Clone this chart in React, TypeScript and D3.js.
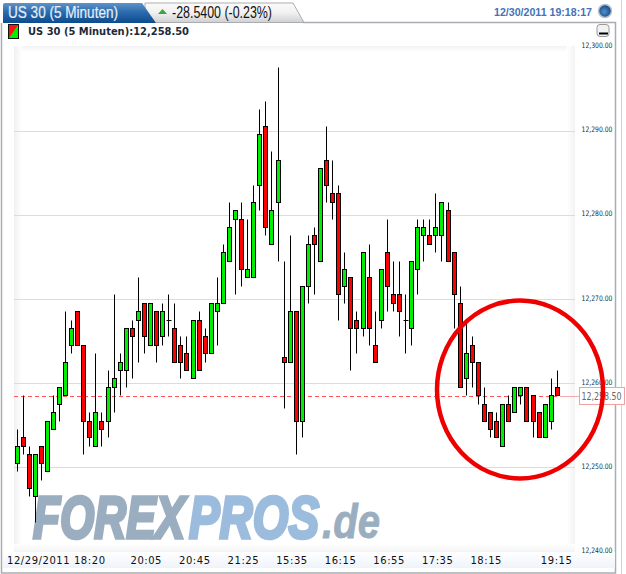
import React, { useEffect, useRef } from "react";
import * as d3 from "d3";

const BASE = 12200;
const opens = [50.5,53.5,51.5,46.5,52.5,49.5,54.5,57.5,58.5,64.5,68.5,64.5,55.5,52.5,55.5,55.5,59.5,61.5,61.5,66.5,67.5,69.5,64.5,68.5,65.5,67.5,66.5,64.5,63.5,60.5,67.5,65.5,63.5,68.5,69.5,74.5,79.5,79.5,72.5,72.5,83.5,90.5,76.5,81.5,63,62.5,68.5,55.5,71.5,77.5,74.5,86.5,82.5,82.5,71.5,72.5,67.5,66.5,72.5,64.5,67.5,75.5,70.5,70.5,67.5,66.5,73.5,77.5,77.5,77.5,77.5,80.5,75.5,69.5,60.5,64.5,62.5,57.5,56.5,55.5,52.5,57.5,56.5,58.5,59.5,58.5,56.5,53.5,55.5,59.5];
const closes = [52.5,52.5,47.5,51.5,50.5,55.5,56.5,59.5,62.5,66.5,64.5,55.5,53.5,56.5,54.5,59.5,60.5,62.5,66.5,65.5,68.5,65.5,69.5,64.5,68.5,67.5,62.5,62.5,61.5,67.5,61.5,63.5,69.5,69.5,75.5,78.5,80.5,73.5,73.5,81.5,89.5,78.5,80.5,86.5,62.5,68.5,55.5,71.5,76.5,76.5,85.5,83.5,81.5,70.5,73.5,66.5,66.5,75.5,66.5,62.5,73.5,71.5,69.5,68.5,67.5,74.5,78.5,78.5,76.5,78.5,81.5,74.5,70.5,59.5,63.5,62.5,58.5,55.5,54.5,53.5,57.5,55.5,59.5,59.5,55.5,55.5,53.5,57.5,58.5,58.5];
const highs = [54.5,58.5,52.5,51.5,52.5,55.5,58.5,59.5,68.5,67.5,68.5,64.5,56.5,63.5,56.5,61.5,70.5,63.5,66.5,67.5,72.5,69.5,69.5,68.5,69.5,70.5,69.5,65.5,65.5,67.5,68.5,66.5,69.5,72.5,76.5,81.5,80.5,81.5,79.5,83.5,92.5,93.5,87.5,97.5,74.5,77.5,68.5,71.5,77.5,78.5,85.5,90.5,86.5,83.5,75.5,72.5,68.5,75.5,76.5,68.5,73.5,79.5,74.5,74.5,70.5,74.5,79.5,79.5,79.5,82.5,81.5,81.5,75.5,71.5,67.5,65.5,62.5,59.5,56.5,56.5,57.5,58.5,59.5,59.5,59.5,58.5,56.5,57.5,60.5,61.5];
const lows = [49.5,51.5,46.5,43.5,48.5,49.5,54.5,55.5,58.5,63.5,64.5,51.5,52.5,52.5,52.5,53.5,56.5,58.5,59.5,60.5,62.5,63.5,64.5,62.5,64.5,65.5,62.5,60.5,61.5,60.5,61.5,62.5,63.5,64.5,69.5,74.5,70.5,71.5,72.5,72.5,80.5,77.5,76.5,74.5,57,62.5,51.5,53.5,69.5,70.5,74.5,81.5,79.5,67.5,69.5,61.5,63.5,65.5,64.5,62.5,66.5,68.5,68.5,65.5,63.5,64.5,70.5,74.5,76.5,75.5,74.5,74.5,66.5,59.5,58.5,59.5,57.5,55.5,53.5,53.5,52.5,55.5,56.5,57.5,55.5,53.5,53.5,53.5,54.5,58.5];

const priceTicks = [12300, 12290, 12280, 12270, 12260, 12250, 12240];
const timeLabels = ["12/29/2011 18:20", "20:05", "20:45", "21:25", "15:35", "16:15", "16:55", "17:35", "18:15", "19:15"];
const timeLabelIndex = [0, 21, 29, 37, 45, 53, 61, 69, 77, 88.6];
const lastPrice = 12258.5;
const titleText = "US 30 (5 Minuten)";
const changeText = "-28.5400 (-0.23%)";
const legendText = "US 30 (5 Minuten):12,258.50";
const stampText = "12/30/2011 19:18:17";

const fmt = d3.format(",.2f");

export default function App() {
  const ref = useRef<SVGSVGElement>(null);
  useEffect(() => {
    const svg = d3.select(ref.current);
    svg.selectAll("*").remove();
    const defs = svg.append("defs");
    const grad = (id: string, x2: number, y2: number, stops: [number, string][]) => {
      const g = defs.append("linearGradient").attr("id", id).attr("x1", 0).attr("y1", 0).attr("x2", x2).attr("y2", y2);
      stops.forEach(([o, c]) => g.append("stop").attr("offset", o).attr("stop-color", c));
    };
    grad("tabBlue", 0, 1, [[0, "#5f93c9"], [0.45, "#2b6cae"], [1, "#0d4a8e"]]);
    grad("tabGray", 0, 1, [[0, "#fbfbfb"], [0.5, "#f1f1f1"], [1, "#cfd0d2"]]);
    grad("strip", 0, 1, [[0, "#ffffff"], [1, "#eef4fb"]]);
    grad("shL", 1, 0, [[0, "#f1f1f1"], [1, "#ffffff"]]);
    grad("shR", 1, 0, [[0, "#ffffff"], [1, "#f3f3f3"]]);
    grad("shT", 0, 1, [[0, "#f3f3f3"], [1, "#ffffff"]]);
    grad("shB", 0, 1, [[0, "#ffffff"], [1, "#f3f3f3"]]);
    const rg = defs.append("radialGradient").attr("id", "globe").attr("cx", 0.45).attr("cy", 0.55).attr("r", 0.6);
    rg.append("stop").attr("offset", 0).attr("stop-color", "#4f8fd0");
    rg.append("stop").attr("offset", 1).attr("stop-color", "#123f78");

    const y = d3.scaleLinear().domain([12240, 12300]).range([551.6, 46.4]);
    const x = d3.scaleLinear().domain([0, 89]).range([17, 557.3]);
    const px = (v: number) => Math.round(x(v) - 0.5) + 0.5;
    const py = (v: number) => Math.round(y(BASE + v) - 0.5) + 0.5;

    // frame
    svg.append("rect").attr("width", 626).attr("height", 574).attr("fill", "#fff");
    svg.append("path").attr("d", "M1.5 23V573H615.5V22.5H303").attr("fill", "none").attr("stroke", "#a9adb1").attr("stroke-width", 1.5);
    svg.append("line").attr("x1", 621.5).attr("x2", 621.5).attr("y1", 0).attr("y2", 574).attr("stroke", "#d0d2d4");

    // tabs
    svg.append("path").attr("d", "M145 3H293L304 22.5H145Z").attr("fill", "url(#tabGray)").attr("stroke", "#a9adb1");
    svg.append("path").attr("d", "M3 5Q3 3 5 3H142L156 23H3Z").attr("fill", "url(#tabBlue)");
    svg.append("text").text(titleText).attr("x", 8).attr("y", 18).attr("font-family", "Liberation Sans").attr("font-size", 16).attr("fill", "#e6eef8").attr("stroke", "#e6eef8").attr("stroke-width", 0.2).attr("textLength", 110).attr("lengthAdjust", "spacingAndGlyphs");
    svg.append("path").attr("d", "M158 14L162.5 9L167 14Z").attr("fill", "#3da53d");
    svg.append("text").text(changeText).attr("x", 172).attr("y", 18).attr("font-family", "Liberation Sans").attr("font-size", 16).attr("fill", "#111").attr("textLength", 100).attr("lengthAdjust", "spacingAndGlyphs");
    svg.append("text").text(stampText).attr("x", 494).attr("y", 16).attr("font-family", "Liberation Sans").attr("font-weight", "bold").attr("font-size", 11).attr("fill", "#4472b8").attr("textLength", 98).attr("lengthAdjust", "spacingAndGlyphs");
    svg.append("circle").attr("cx", 605).attr("cy", 11).attr("r", 6.5).attr("fill", "url(#globe)").attr("stroke", "#b9c2cc").attr("stroke-width", 1.5);

    // legend icon and text
    svg.append("rect").attr("x", 8.5).attr("y", 24.5).attr("width", 10).attr("height", 14).attr("fill", "#00ee00").attr("stroke", "#111");
    svg.append("path").attr("d", "M9 25H18L9 38Z").attr("fill", "#ff1111");
    svg.append("text").text(legendText).attr("x", 28).attr("y", 35).attr("font-family", "DejaVu Sans").attr("font-weight", "bold").attr("font-size", 10).attr("fill", "#1c2a3a").attr("textLength", 161).attr("lengthAdjust", "spacingAndGlyphs");

    // plot background shading
    svg.append("rect").attr("x", 14).attr("y", 46).attr("width", 561).attr("height", 6).attr("fill", "url(#shT)");
    svg.append("rect").attr("x", 14).attr("y", 46).attr("width", 8).attr("height", 506).attr("fill", "url(#shL)");
    svg.append("rect").attr("x", 567).attr("y", 46).attr("width", 8).attr("height", 506).attr("fill", "url(#shR)");
    svg.append("rect").attr("x", 14).attr("y", 544).attr("width", 561).attr("height", 8).attr("fill", "url(#shB)");
    svg.append("rect").attr("x", 3).attr("y", 552).attr("width", 612).attr("height", 16).attr("fill", "url(#strip)");

    // grid
    svg.append("g").selectAll("line").data(priceTicks.slice(1, -1)).join("line")
      .attr("x1", 14).attr("x2", 575)
      .attr("y1", (d) => Math.round(y(d)) + 0.5).attr("y2", (d) => Math.round(y(d)) + 0.5)
      .attr("stroke", "#dcdcdc");

    // logo
    const logo = svg.append("g").attr("font-family", "Liberation Sans").attr("font-weight", "bold").attr("font-style", "italic");
    const logoPart = (t: string, xp: number, w: number, fs: number, fill: string, sw: number) =>
      logo.append("text").text(t).attr("x", xp).attr("y", 538).attr("font-size", fs).attr("fill", fill).attr("stroke", fill).attr("stroke-width", sw)
        .attr("textLength", w).attr("lengthAdjust", "spacingAndGlyphs");
    logoPart("FOREX", 33, 152, 60, "#9aaec0", 3.5);
    logoPart("PROS", 189, 130, 60, "#9cbcdd", 3.5);
    logoPart(".de", 322, 58, 48, "#9aaec0", 0.8);

    // last price dashed line
    const ly = Math.round(y(lastPrice)) + 0.5;
    svg.append("line").attr("x1", 14).attr("x2", 560).attr("y1", ly).attr("y2", ly).attr("stroke", "#ff5555").attr("stroke-dasharray", "4 3");
    svg.append("line").attr("x1", 560).attr("x2", 579).attr("y1", ly).attr("y2", ly).attr("stroke", "#f6aaaa");

    // candles
    const g = svg.append("g");
    opens.forEach((o, i) => {
      const c = closes[i];
      const cx = px(i);
      g.append("line").attr("x1", cx).attr("x2", cx).attr("y1", py(highs[i])).attr("y2", py(lows[i])).attr("stroke", "#000");
      if (o === c) {
        g.append("line").attr("x1", cx - 2).attr("x2", cx + 3).attr("y1", py(o)).attr("y2", py(o)).attr("stroke", "#000");
      } else {
        const top = py(Math.max(o, c));
        const bot = py(Math.min(o, c));
        g.append("rect").attr("x", cx - 2).attr("y", top).attr("width", 4).attr("height", bot - top)
          .attr("fill", c > o ? "#00ee00" : "#ff0000").attr("stroke", "#000");
      }
    });

    // axis labels
    svg.append("g").selectAll("text").data(priceTicks).join("text")
      .text((d) => fmt(d)).attr("x", 581.5).attr("y", (d) => y(d) + 1.5)
      .attr("font-family", "DejaVu Sans").attr("font-size", 7.5).attr("fill", "#16323a")
      .attr("textLength", 31).attr("lengthAdjust", "spacingAndGlyphs");
    svg.append("g").selectAll("text").data(timeLabels).join("text")
      .text((d) => d)
      .attr("x", (d, i) => (i === 0 ? 7 : x(timeLabelIndex[i]) + 1.5 - 15.5))
      .attr("y", 564)
      .attr("font-family", "DejaVu Sans").attr("font-size", 10).attr("fill", "#111")
      .attr("textLength", (d, i) => (i === 0 ? 98 : 31));

    // minimise button
    svg.append("rect").attr("x", 597).attr("y", 24.5).attr("width", 12).attr("height", 12).attr("rx", 3).attr("fill", "#f2f2f2").attr("stroke", "#9a9a9a");
    svg.append("rect").attr("x", 599).attr("y", 32.5).attr("width", 9).attr("height", 2).attr("fill", "#000");

    // last price box
    svg.append("rect").attr("x", 579.5).attr("y", 387.5).attr("width", 45).attr("height", 17).attr("fill", "#fff").attr("stroke", "#f2a0a0");
    svg.append("text").text(fmt(lastPrice)).attr("x", 581.5).attr("y", 399.5).attr("font-family", "DejaVu Sans").attr("font-size", 10.5).attr("fill", "#666").attr("textLength", 40).attr("lengthAdjust", "spacingAndGlyphs");

    // annotation ellipse
    svg.append("ellipse").attr("cx", 520).attr("cy", 389.5).attr("rx", 83).attr("ry", 89).attr("fill", "none").attr("stroke", "#ee0000").attr("stroke-width", 4.5);
  }, []);
  return <svg ref={ref} width={626} height={574} style={{ position: "absolute", left: 0, top: 0 }} />;
}
